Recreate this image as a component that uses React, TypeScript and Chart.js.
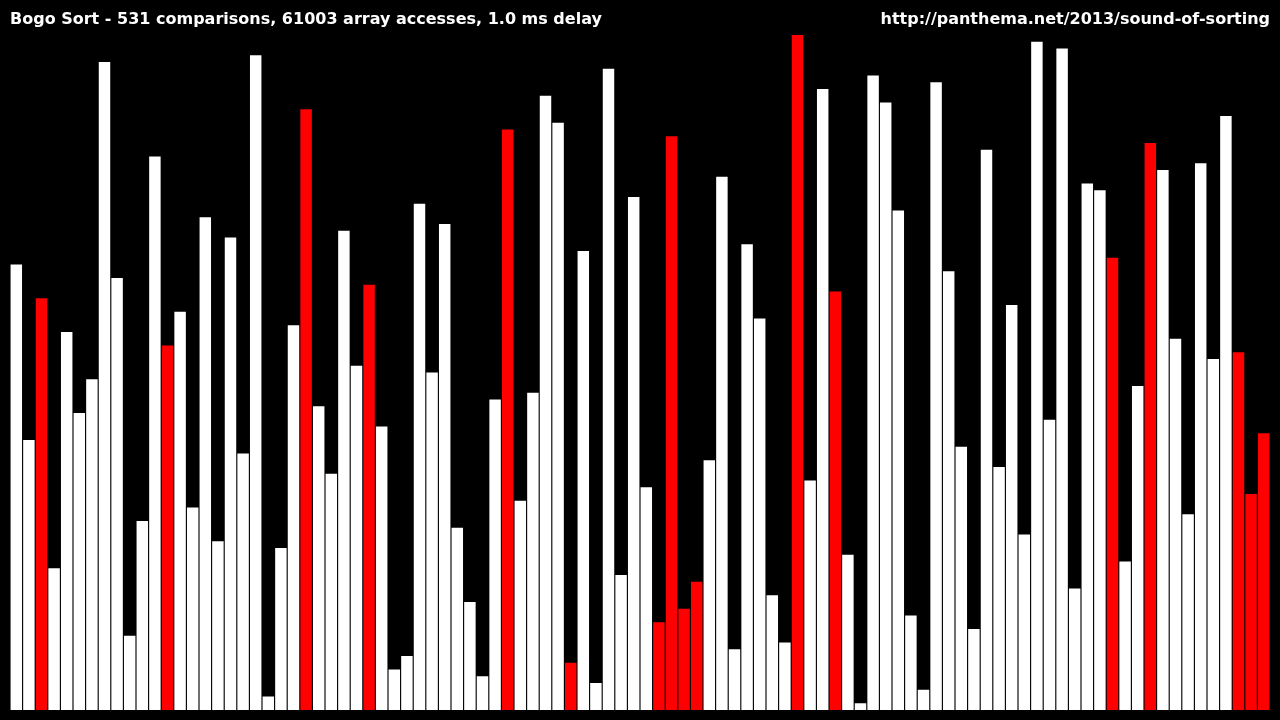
import React, { useEffect, useRef } from "react";
import { Chart, registerables } from "chart.js";

Chart.register(...registerables);

const titleLeft = "Bogo Sort - 531 comparisons, 61003 array accesses, 1.0 ms delay";
const titleRight = "http://panthema.net/2013/sound-of-sorting";

const values: number[] = [
  66, 40, 61, 21, 56, 44, 49, 96, 64, 11,
  28, 82, 54, 59, 30, 73, 25, 70, 38, 97,
  2, 24, 57, 89, 45, 35, 71, 51, 63, 42,
  6, 8, 75, 50, 72, 27, 16, 5, 46, 86,
  31, 47, 91, 87, 7, 68, 4, 95, 20, 76,
  33, 13, 85, 15, 19, 37, 79, 9, 69, 58,
  17, 10, 100, 34, 92, 62, 23, 1, 94, 90,
  74, 14, 3, 93, 65, 39, 12, 83, 36, 60,
  26, 99, 43, 98, 18, 78, 77, 67, 22, 48,
  84, 80, 55, 29, 81, 52, 88, 53, 32, 41,
];

// indices of highlighted (red) bars
const highlighted: number[] = [2, 12, 23, 28, 39, 44, 51, 52, 53, 54, 62, 65, 87, 90, 97, 98, 99];

const labels: string[] = values.map((_, i) => String(i + 1));

export default function App() {
  const canvasRef = useRef<HTMLCanvasElement | null>(null);

  useEffect(() => {
    document.body.style.margin = "0";
    document.body.style.background = "#000";
    const canvas = canvasRef.current;
    if (!canvas) return;
    const colors = values.map((_, i) => (highlighted.includes(i) ? "#ff0000" : "#ffffff"));
    const chart = new Chart(canvas, {
      type: "bar",
      data: {
        labels,
        datasets: [
          {
            data: values,
            backgroundColor: colors,
            borderWidth: 0,
            categoryPercentage: 1,
            barPercentage: 0.91,
          },
        ],
      },
      options: {
        responsive: false,
        animation: false,
        layout: { padding: { left: 10, right: 10, top: 35, bottom: 10 } },
        plugins: {
          legend: { display: false },
          tooltip: { enabled: false },
          title: { display: false },
        },
        scales: {
          x: { display: false, offset: true },
          y: { display: false, min: 0, max: 100 },
        },
      },
    });
    return () => chart.destroy();
  }, []);

  const textStyle: React.CSSProperties = {
    position: "absolute",
    top: 11,
    fontFamily: "'DejaVu Sans', sans-serif",
    fontSize: 16,
    fontWeight: "bold",
    lineHeight: "16px",
    color: "#ffffff",
    whiteSpace: "nowrap",
  };

  return (
    <div style={{ position: "fixed", left: 0, top: 0, width: 1280, height: 720, background: "#000000" }}>
      <canvas ref={canvasRef} width={1280} height={720} style={{ display: "block" }} />
      <span style={{ ...textStyle, left: 10 }}>{titleLeft}</span>
      <span style={{ ...textStyle, right: 10 }}>{titleRight}</span>
    </div>
  );
}
